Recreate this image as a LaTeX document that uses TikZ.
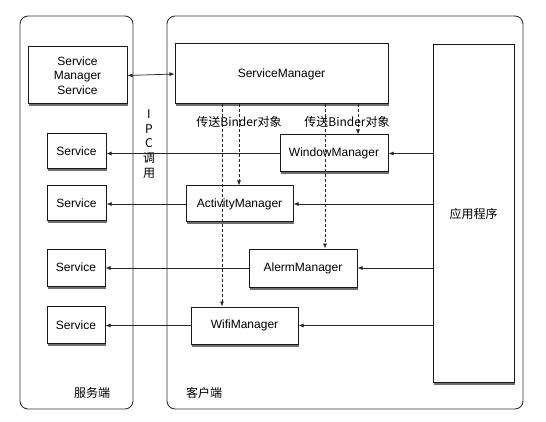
\documentclass[tikz,border=0pt]{standalone}
\usepackage{fontspec}
\setmainfont{Liberation Sans}
\newfontfamily\cjk{Noto Sans CJK SC}
\usetikzlibrary{arrows.meta,shadows,calc}
\tikzset{
  box/.style={draw=black!90, line width=1pt, fill=white, rectangle, inner sep=0pt,
    font=\fontsize{12}{14}\selectfont,
    drop shadow={shadow xshift=1pt, shadow yshift=-2.5pt, opacity=0.7, fill=black!80}},
  container/.style={draw=black!80, line width=0.9pt, rounded corners=8pt},
  conn/.style={draw=black!85, line width=0.75pt, -{Latex[length=5pt,width=4pt]}},
  dconn/.style={draw=black!85, line width=0.75pt, dashed, dash pattern=on 3pt off 2pt, -{Latex[length=5pt,width=4pt]}},
  lbl/.style={font=\fontsize{12}{14}\selectfont\cjk, inner sep=0pt}
}
\begin{document}
\begin{tikzpicture}[x=1pt,y=-1pt]
\useasboundingbox (0,0) rectangle (546,422);
\fill[white] (0,0) rectangle (546,422);
% containers
\draw[container] (20,16) rectangle (133,409);
\draw[container] (167,16) rectangle (523,409);
% nodes
\node[box, minimum width=99pt, minimum height=57pt, align=center,
  font=\fontsize{12}{14.5}\selectfont] (sms) at (77.5,75.5) {Service\\Manager\\Service};
\node[box, minimum width=213pt, minimum height=60pt] (sm) at (281.5,74) {ServiceManager};
\node[box, minimum width=108pt, minimum height=37pt] (wm) at (334,153.5) {WindowManager};
\node[box, minimum width=107pt, minimum height=36pt] (am) at (239.5,204) {ActivityManager};
\node[box, minimum width=108pt, minimum height=38pt] (alm) at (303,268) {AlermManager};
\node[box, minimum width=107pt, minimum height=37pt] (wfm) at (244.5,325.5) {WifiManager};
\node[box, minimum width=59pt, minimum height=35pt] (s1) at (76.5,151) {Service};
\node[box, minimum width=59pt, minimum height=35pt] (s2) at (76.5,203) {Service};
\node[box, minimum width=58pt, minimum height=37pt] (s3) at (76,267.5) {Service};
\node[box, minimum width=58pt, minimum height=37pt] (s4) at (76,325) {Service};
\node[box, minimum width=81pt, minimum height=337pt] (app) at (473.5,213.5) {\cjk 应用程序};
% labels
\node[lbl] (b1) at (239,122) {传送Binder对象};
\node[lbl] (b2) at (347,122) {传送Binder对象};
\node[lbl, align=center, font=\fontsize{12}{14.8}\selectfont\cjk] (ipc) at (149,144) {I\\P\\C\\调\\用};
\node[lbl] (srv) at (92,393) {服务端};
\node[lbl] (cli) at (204,393) {客户端};
% IPC link
\draw[draw=black!85, line width=0.75pt, {Latex[length=5pt,width=4pt]}-{Latex[length=5pt,width=4pt]}] (sms.east) -- (sm.west);
% app -> managers
\draw[conn] (app.west |- wm.east) -- (wm.east);
\draw[conn] (app.west |- am.east) -- (am.east);
\draw[conn] (app.west |- alm.east) -- (alm.east);
\draw[conn] (app.west |- wfm.east) -- (wfm.east);
% managers -> services
\draw[conn] (wm.west) -- (wm.west -| s1.east);
\draw[conn] (am.west) -- (am.west -| s2.east);
\draw[conn] (alm.west) -- (alm.west -| s3.east);
\draw[conn] (wfm.west) -- (wfm.west -| s4.east);
% dashed binder transfers
\coordinate (d1) at (222,104);
\coordinate (d2) at (239,104);
\coordinate (d3) at (325,104);
\coordinate (d4) at (358,104);
\draw[dconn] (d1) -- (d1 |- wfm.north);
\draw[dconn] (d2) -- (d2 |- am.north);
\draw[dconn] (d3) -- (d3 |- alm.north);
\draw[dconn] (d4) -- (d4 |- wm.north);
\end{tikzpicture}
\end{document}
